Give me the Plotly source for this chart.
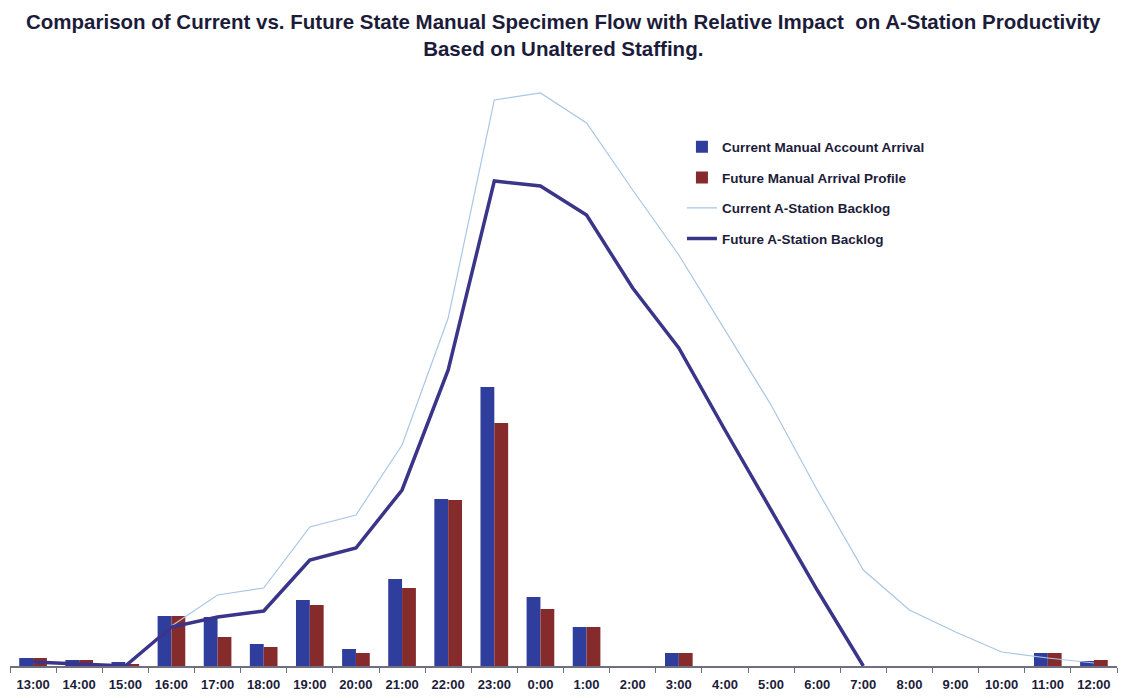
import plotly.graph_objects as go

hours = ["13:00", "14:00", "15:00", "16:00", "17:00", "18:00", "19:00", "20:00",
         "21:00", "22:00", "23:00", "0:00", "1:00", "2:00", "3:00", "4:00",
         "5:00", "6:00", "7:00", "8:00", "9:00", "10:00", "11:00", "12:00"]

current_arrival = [8, 6, 4, 50, 49, 22, 66, 17, 87, 167, 279, 69, 39, 0, 13, 0,
                   0, 0, 0, 0, 0, 0, 13, 5]
future_arrival = [8, 6, 2, 50, 29, 19, 61, 13, 78, 166, 243, 57, 39, 0, 13, 0,
                  0, 0, 0, 0, 0, 0, 13, 6]
current_backlog = [3, 2, 0, 40, 71, 78, 139, 151, 221, 348, 566, 573, 543, 476,
                   411, 336, 261, 176, 96, 56, 34, 14, 8, 3]
future_backlog = [4, 2, 0, 39, 49, 55, 106, 118, 176, 296, 485, 480, 451, 378,
                  318, 236, 156, 76, 0, None, None, None, None, None]

title_lines = ["Comparison of Current vs. Future State Manual Specimen Flow with Relative Impact  on A-Station Productivity",
               "Based on Unaltered Staffing."]

BLUE = "#2f3d9c"
RED = "#852b2b"
LIGHT = "#aac6e6"
INDIGO = "#3b358a"
INK = "#1c1c3a"
FONT = "Liberation Sans, Arial, sans-serif"

fig = go.Figure()
fig.add_trace(go.Bar(x=hours, y=current_arrival, name="Current Manual Account Arrival",
                     marker=dict(color=BLUE, line=dict(width=0)), legendgroup="a"))
fig.add_trace(go.Bar(x=hours, y=future_arrival, name="Future Manual Arrival Profile",
                     marker=dict(color=RED, line=dict(width=0)), legendgroup="b"))
fig.add_trace(go.Scatter(x=hours, y=current_backlog, name="Current A-Station Backlog",
                         mode="lines", line=dict(color=LIGHT, width=1.2), legendgroup="c"))
fig.add_trace(go.Scatter(x=hours, y=future_backlog, name="Future A-Station Backlog",
                         mode="lines", line=dict(color=INDIGO, width=3.5), legendgroup="d"))

fig.add_annotation(
    text="<br>".join(title_lines),
    xref="paper", yref="paper", x=0.5, y=(666 - 8) / 586,
    xanchor="center", yanchor="top", showarrow=False, align="center",
    font=dict(family=FONT, size=20.5, color=INK, weight="bold"),
)

fig.update_layout(
    width=1128, height=698,
    margin=dict(l=10, r=11, t=80, b=32, autoexpand=False),
    paper_bgcolor="white", plot_bgcolor="white",
    barmode="group", bargap=0.4, bargroupgap=0,
    legend=dict(
        x=0.607, y=0.912, xanchor="left", yanchor="top",
        font=dict(family=FONT, size=13.5, color=INK, weight="bold"),
        bgcolor="rgba(0,0,0,0)", tracegroupgap=10, itemwidth=30,
    ),
    xaxis=dict(
        type="category", showgrid=False, showline=True, linecolor="#6f6f80", linewidth=1.5,
        ticks="outside", ticklen=5, tickcolor="#6f6f80", tickson="boundaries",
        ticklabelstandoff=6, automargin=False,
        tickfont=dict(family=FONT, size=13, color=INK, weight="bold"),
        fixedrange=True,
    ),
    yaxis=dict(range=[0, 586], visible=False, showgrid=False, zeroline=False),
)

fig.write_html("out.html")
